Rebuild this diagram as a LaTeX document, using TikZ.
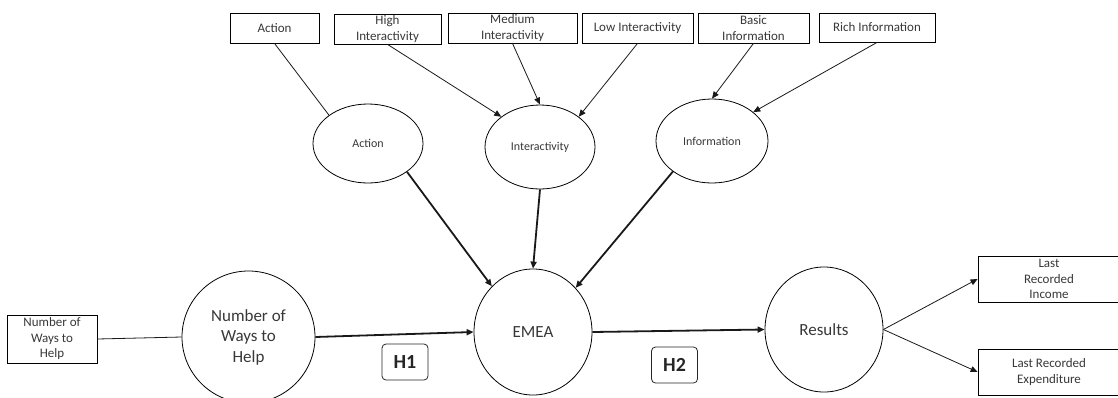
\documentclass[tikz,border=0pt]{standalone}
\usepackage{fontspec}
\setmainfont{Carlito}
\usetikzlibrary{shapes.geometric,arrows.meta}
\tikzset{
  ind/.style={draw=black, line width=0.8pt, rectangle, inner sep=0pt, text=black!78, font=\fontsize{13}{15.5}\selectfont, align=center},
  lat/.style={draw=black, line width=0.8pt, ellipse, inner sep=0pt, text=black!78, font=\fontsize{12}{14}\selectfont, align=center},
  big/.style={draw=black, line width=0.8pt, ellipse, inner sep=0pt, text=black!78, font=\fontsize{17}{20.5}\selectfont, align=center},
  hyp/.style={draw=black!85, line width=0.8pt, rectangle, rounded corners=4pt, inner sep=0pt, minimum width=46pt, minimum height=36pt, text=black!85, font=\fontsize{20}{22}\selectfont\bfseries},
  thin/.style={line width=0.8pt, draw=black!90},
  thinarr/.style={thin, -{Triangle[length=7pt,width=6pt]}},
  thickarr/.style={line width=1.8pt, draw=black!90, -{Triangle[length=7pt,width=6pt]}}
}
\begin{document}
\begin{tikzpicture}[x=1pt,y=-1pt]
\useasboundingbox (0,0) rectangle (1118,397);
% top indicator boxes
\node[ind, minimum width=89pt, minimum height=30pt] (bAct) at (274.5,28) {Action};
\node[ind, minimum width=107pt, minimum height=30pt] (bHigh) at (387.5,29) {High\\Interactivity};
\node[ind, minimum width=129pt, minimum height=30pt] (bMed) at (512.5,28) {Medium\\Interactivity};
\node[ind, minimum width=111pt, minimum height=30pt] (bLow) at (637.5,28) {Low Interactivity};
\node[ind, minimum width=111pt, minimum height=30pt] (bBasic) at (753.5,28) {Basic\\Information};
\node[ind, minimum width=116pt, minimum height=29pt] (bRich) at (877,27.5) {Rich Information};
% latent ellipses
\node[lat, minimum width=110pt, minimum height=79pt] (eAct) at (368,143.5) {Action};
\node[lat, minimum width=110pt, minimum height=84pt] (eInt) at (540,147) {Interactivity};
\node[lat, minimum width=112pt, minimum height=84pt] (eInf) at (712,141) {Information};
% big circles
\node[big, minimum width=133pt, minimum height=132pt] (cNum) at (248.5,337) {Number of\\Ways to\\Help};
\node[big, minimum width=118pt, minimum height=126pt] (cEmea) at (533,332) {EMEA};
\node[big, minimum width=118pt, minimum height=125pt] (cRes) at (824,329.5) {Results};
% side boxes
\node[ind, minimum width=90pt, minimum height=48pt] (bNum) at (52,339) {Number of\\Ways to\\Help};
\node[ind, minimum width=142pt, minimum height=46pt] (bInc) at (1049,279) {Last\\Recorded\\Income};
\node[ind, minimum width=142pt, minimum height=46pt] (bExp) at (1049,372) {Last Recorded\\Expenditure};
% hypotheses
\node[hyp] (h1) at (405,362) {H1};
\node[hyp] (h2) at (674.5,365) {H2};
% connectors
\draw[thin] (bAct.south) -- (eAct.144);
\draw[thinarr] (bHigh.south) -- (eInt.142);
\draw[thinarr] (bMed.south) -- (eInt.north);
\draw[thinarr] (bLow.south) -- (eInt.38);
\draw[thinarr] (bBasic.south) -- (eInf.north);
\draw[thinarr] (bRich.south) -- (eInf.35);
\draw[thickarr] (eAct.324) -- (cEmea.132);
\draw[thickarr] (eInt.south) -- (cEmea.north);
\draw[thickarr] (eInf.218) -- (cEmea.46);
\draw[thin] (bNum.east) -- (cNum.west);
\draw[thickarr] (cNum.east) -- (cEmea.west);
\draw[thickarr] (cEmea.east) -- (cRes.west);
\draw[thinarr] (cRes.east) -- (bInc.west);
\draw[thinarr] (cRes.east) -- (bExp.west);
\end{tikzpicture}
\end{document}
